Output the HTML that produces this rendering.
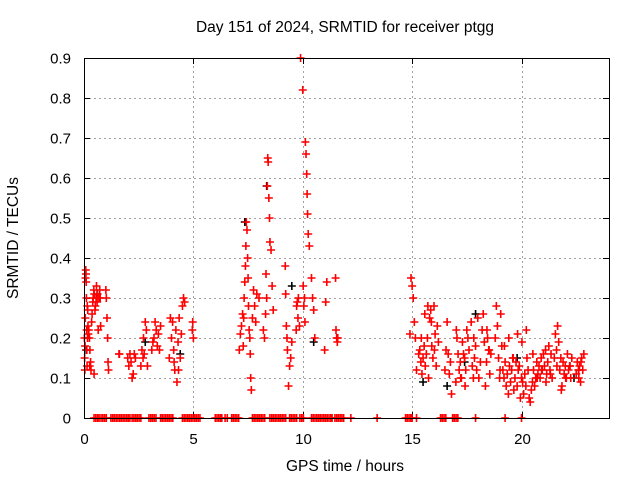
<!DOCTYPE html>
<html><head><meta charset="utf-8"><style>
body{margin:0;background:#fff;}
svg{display:block;font-family:"Liberation Sans",sans-serif;}
</style></head><body>
<svg id="chart" width="640" height="480" viewBox="0 0 640 480">
<rect width="640" height="480" fill="#fff"/>
<text x="345" y="32" font-size="15.5" text-anchor="middle">Day 151 of 2024, SRMTID for receiver ptgg</text>
<text x="345" y="471" font-size="15.5" text-anchor="middle">GPS time / hours</text>
<text x="18" y="238" font-size="15.5" text-anchor="middle" transform="rotate(-90 18 238)">SRMTID / TECUs</text>
<g id="grid"></g>
<g id="ticks"></g>
<g id="marks"></g>
<rect x="84.5" y="58.5" width="525" height="360" fill="none" stroke="#000" stroke-width="1"/>
</svg>
<script>
const xTicks=[0,5,10,15,20];
const yTicks=[0,0.1,0.2,0.3,0.4,0.5,0.6,0.7,0.8,0.9];
const yTickLabels=["0","0.1","0.2","0.3","0.4","0.5","0.6","0.7","0.8","0.9"];
const hours=[0.02,0.03,0.04,0.05,0.06,0.07,0.08,0.09,0.1,0.11,0.12,0.13,0.14,0.15,0.17,0.18,0.2,0.22,0.25,0.27,0.3,0.32,0.35,0.37,0.4,0.42,0.45,0.47,0.5,0.52,0.55,0.57,0.6,0.62,0.65,0.68,0.72,0.74,0.76,1.0,1.02,1.05,1.08,1.1,1.12,1.6,1.62,2.0,2.05,2.1,2.15,2.2,2.25,2.3,2.35,2.6,2.65,2.7,2.72,2.75,2.8,2.85,2.9,3.1,3.15,3.2,3.25,3.3,3.35,3.4,3.45,3.5,3.9,3.95,4.0,4.05,4.1,4.15,4.2,4.25,4.3,4.35,4.4,4.45,4.5,4.55,4.6,4.95,4.97,5.0,7.1,7.15,7.2,7.25,7.3,7.32,7.35,7.38,7.4,7.42,7.45,7.48,7.5,7.52,7.55,7.6,7.62,7.65,7.7,7.75,7.8,7.85,7.9,8.0,8.2,8.25,8.3,8.32,8.35,8.38,8.4,8.42,8.45,8.48,8.5,8.55,8.6,8.65,9.2,9.22,9.25,9.28,9.3,9.35,9.4,9.45,9.5,9.7,9.72,9.75,9.78,9.8,9.85,9.9,10.0,10.02,10.05,10.08,10.1,10.12,10.15,10.18,10.2,10.22,10.25,10.3,10.4,10.45,10.5,10.55,11.0,11.05,11.1,11.5,11.52,11.55,11.58,11.6,14.9,14.95,15.0,15.05,15.1,15.15,15.2,15.3,15.35,15.4,15.45,15.5,15.55,15.6,15.65,15.7,15.75,15.8,15.85,15.9,15.95,16.0,16.05,16.1,16.15,16.2,16.5,16.55,16.6,16.65,16.7,16.75,16.8,17.0,17.05,17.1,17.15,17.2,17.25,17.3,17.35,17.4,17.45,17.5,17.55,17.6,17.7,17.75,17.8,17.85,17.9,17.95,18.0,18.05,18.2,18.25,18.3,18.35,18.4,18.45,18.5,18.55,18.6,18.8,18.85,18.9,18.95,19.0,19.05,19.1,19.15,19.2,19.25,19.3,19.35,19.4,19.45,19.5,19.55,19.6,19.65,19.7,19.75,19.8,19.85,19.9,19.95,20.0,20.05,20.1,20.15,20.2,20.25,20.3,20.35,20.4,20.45,20.5,20.55,20.6,20.65,20.7,20.75,20.8,20.85,20.9,20.95,21.0,21.05,21.1,21.15,21.2,21.25,21.3,21.35,21.4,21.5,21.55,21.6,21.65,21.7,21.75,21.8,21.85,21.9,21.95,22.0,22.05,22.1,22.15,22.2,22.25,22.3,22.5,22.55,22.6,22.62,22.65,22.7,22.75,22.8,22.85,
15.42,15.58,15.72,15.88,16.02,17.02,17.22,17.42,17.82,18.12,18.42,18.52,19.02,19.22,19.42,19.62,19.82,20.02,20.22,20.52,20.72,20.92,21.12,21.32,21.62,21.82,22.02,22.22,22.62,22.72,0.16,0.26,0.46,4.12,4.32,7.28,7.58];
const values=[0.2,0.15,0.12,0.18,0.25,0.35,0.37,0.36,0.34,0.3,0.22,0.17,0.13,0.28,0.27,0.23,0.21,0.22,0.2,0.17,0.14,0.12,0.24,0.26,0.29,0.3,0.32,0.31,0.27,0.28,0.3,0.33,0.29,0.31,0.22,0.3,0.32,0.3,0.23,0.32,0.3,0.25,0.2,0.14,0.12,0.16,0.16,0.15,0.13,0.16,0.14,0.1,0.11,0.16,0.15,0.13,0.17,0.15,0.2,0.16,0.24,0.22,0.13,0.17,0.19,0.2,0.24,0.22,0.18,0.21,0.17,0.23,0.15,0.25,0.2,0.24,0.17,0.12,0.22,0.09,0.19,0.25,0.15,0.21,0.28,0.3,0.29,0.22,0.24,0.2,0.17,0.21,0.23,0.26,0.25,0.3,0.34,0.38,0.43,0.49,0.47,0.4,0.35,0.28,0.22,0.16,0.1,0.07,0.25,0.32,0.28,0.24,0.31,0.3,0.22,0.2,0.26,0.36,0.3,0.58,0.65,0.64,0.55,0.5,0.44,0.42,0.33,0.27,0.38,0.31,0.23,0.2,0.17,0.08,0.13,0.15,0.19,0.22,0.28,0.29,0.25,0.3,0.23,0.9,0.82,0.33,0.28,0.3,0.24,0.69,0.66,0.61,0.56,0.51,0.46,0.43,0.35,0.3,0.27,0.2,0.17,0.29,0.34,0.35,0.22,0.2,0.19,0.2,0.21,0.35,0.33,0.3,0.24,0.2,0.12,0.16,0.17,0.14,0.11,0.15,0.18,0.13,0.16,0.2,0.1,0.25,0.27,0.18,0.15,0.28,0.21,0.13,0.23,0.19,0.12,0.17,0.24,0.16,0.11,0.14,0.06,0.09,0.2,0.16,0.12,0.14,0.1,0.19,0.16,0.15,0.12,0.22,0.2,0.17,0.24,0.13,0.1,0.15,0.18,0.12,0.25,0.1,0.22,0.26,0.19,0.08,0.14,0.2,0.17,0.11,0.16,0.2,0.28,0.23,0.15,0.1,0.26,0.18,0.12,0.1,0.14,0.08,0.11,0.06,0.13,0.09,0.12,0.15,0.07,0.1,0.14,0.08,0.12,0.13,0.05,0.1,0.09,0.06,0.11,0.08,0.15,0.12,0.05,0.04,0.07,0.09,0.12,0.08,0.1,0.14,0.11,0.13,0.1,0.15,0.12,0.16,0.13,0.17,0.11,0.14,0.18,0.12,0.16,0.1,0.15,0.21,0.17,0.23,0.19,0.12,0.15,0.08,0.14,0.11,0.13,0.1,0.16,0.12,0.13,0.1,0.15,0.11,0.14,0.12,0.1,0.13,0.09,0.15,0.12,0.16,0.2,0.26,0.28,0.24,0.17,0.22,0.1,0.08,
0.2,0.14,0.22,0.17,0.12,0.18,0.2,0.15,0.21,0.19,0.22,0.16,0.1,0.12,0.09,0.11,0.13,0.07,0.1,0.13,0.12,0.14,0.2,0.13,0.11,0.14,0.12,0.18,0.2,0.14,0.31,0.29,0.33,0.2,0.23,0.29,0.27];
const blackHours=[0.1,0.6,2.8,4.4,7.35,8.35,9.5,10.5,15.5,16.6,17.4,17.9,19.8,22.4];
const blackValues=[0.17,0.31,0.19,0.16,0.49,0.58,0.33,0.19,0.09,0.08,0.14,0.26,0.15,0.1];
const zeroHours=[0.46,0.54,0.62,0.69,0.78,0.86,0.94,1.02,1.23,1.31,1.39,1.47,1.55,1.63,1.71,1.79,1.87,1.95,2.03,2.1,2.2,2.28,2.36,2.44,2.52,2.6,2.97,3.05,3.13,3.21,3.29,3.5,3.58,3.66,3.74,3.82,3.9,3.98,4.06,4.5,4.58,4.66,4.74,4.82,4.9,4.98,5.06,5.14,5.22,5.3,6.0,6.08,6.16,6.24,6.3,6.45,6.55,6.75,6.83,6.91,6.99,7.07,7.7,7.78,7.86,7.94,8.02,8.1,8.18,8.26,8.5,8.58,8.66,8.74,8.82,8.9,8.98,9.06,9.14,9.22,9.4,9.48,9.56,9.64,9.72,9.87,9.95,10.03,10.4,10.48,10.56,10.64,10.72,10.8,10.88,10.96,11.04,11.12,11.2,11.28,11.34,11.47,11.55,11.63,11.71,11.79,11.87,12.2,13.4,14.7,14.78,14.86,14.94,15.0,15.2,16.3,16.38,16.46,16.54,16.85,16.93,17.01,17.09,17.9,19.25,20.0];
const X0=84,X1=609,Y0=418,Y1=58;
function xs(h){return X0+(h/24)*(X1-X0);}
function ys(v){return Y0-(v/0.9)*(Y0-Y1);}
const NS='http://www.w3.org/2000/svg';
function mk(tag,a,p){const e=document.createElementNS(NS,tag);for(const k in a)e.setAttribute(k,a[k]);p.appendChild(e);return e;}
const grid=document.getElementById('grid'),ticks=document.getElementById('ticks'),marks=document.getElementById('marks');
yTicks.forEach((v,i)=>{const y=Math.round(ys(v))+0.5;
 if(v>0&&v<0.9){const g=mk('line',{x1:X0,x2:X1,y1:y,y2:y,stroke:'#a0a0a0','stroke-dasharray':'2,3'},grid);
 
 }
 mk('line',{x1:X0,x2:X0+6,y1:y,y2:y,stroke:'#000'},ticks);
 mk('line',{x1:X1-6,x2:X1,y1:y,y2:y,stroke:'#000'},ticks);
 const t=mk('text',{x:X0-13,y:y+5,'font-size':15,'text-anchor':'end'},ticks);t.textContent=yTickLabels[i];
 
 });
xTicks.forEach(h=>{const x=Math.round(xs(h))+0.5;
 if(h>0){const g=mk('line',{x1:x,x2:x,y1:Y0,y2:Y1,stroke:'#a0a0a0','stroke-dasharray':'2,3'},grid);
 
 }
 mk('line',{x1:x,x2:x,y1:Y0,y2:Y0-6,stroke:'#000'},ticks);
 mk('line',{x1:x,x2:x,y1:Y1,y2:Y1+6,stroke:'#000'},ticks);
 const t=mk('text',{x:x,y:Y0+26,'font-size':15,'text-anchor':'middle'},ticks);t.textContent=String(h);
 
 });
function plus(h,v,c,name){const x=xs(h),y=ys(v);
 const p=mk('path',{d:`M${x-4},${y}H${x+4}M${x},${y-4}V${y+4}`,stroke:c,'stroke-width':1.6,fill:'none'},marks);
 
 }
blackHours.forEach((h,i)=>plus(h,blackValues[i],'#000','black-point'));
hours.forEach((h,i)=>plus(h,values[i],'#f00','srmtid-point'));
zeroHours.forEach(h=>plus(h,0,'#f00','zero-point'));
</script>
</body></html>
